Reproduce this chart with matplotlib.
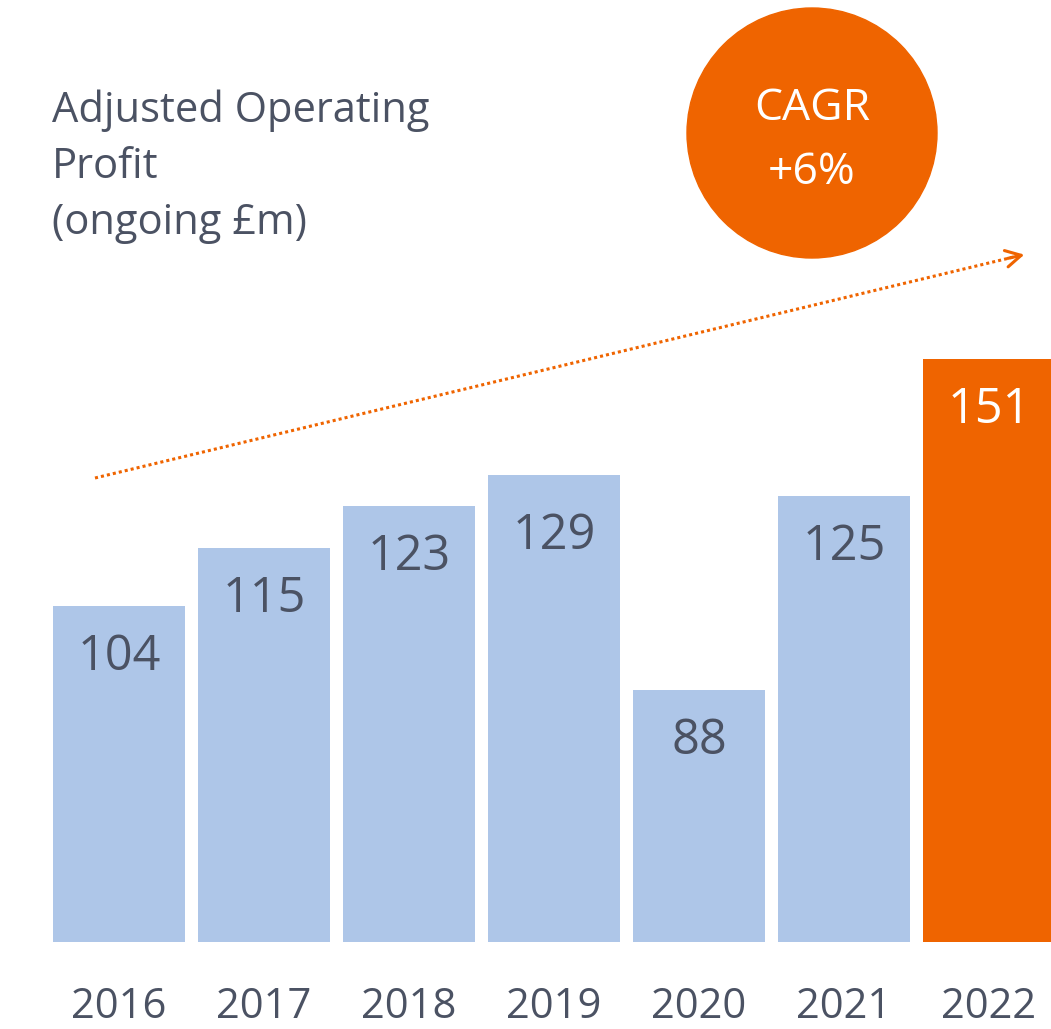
import matplotlib.pyplot as plt
from matplotlib.patches import Ellipse
from matplotlib.lines import Line2D
import matplotlib.transforms as mtransforms

# Datos del gráfico
years = ['2016', '2017', '2018', '2019', '2020', '2021', '2022']
profit = [104, 115, 123, 129, 88, 125, 151]
title_lines = ['Adjusted Operating', 'Profit', '(ongoing £m)']
cagr_lines = ['CAGR', '+6%']

# Colores
blue = '#AEC6E8'
orange = '#EF6400'
text_col = '#4B5263'

# Desplazamiento extra (px) de la etiqueta de 2019 en el original
label_nudge = {3: 10}

plt.rcParams['font.family'] = ['Open Sans', 'DejaVu Sans']

W, H = 1051, 1029
fig = plt.figure(figsize=(W / 100, H / 100), dpi=100)


def fx(px):
    return px / W


def fy(py):
    return 1 - py / H


# Eje de barras: base en y=942 px, centro de la primera barra en x=119 px
ax = fig.add_axes([0, fy(942), 1, 942 / H])
ax.set_xlim(-119 / 145, (W - 119) / 145)
ax.set_ylim(40.06, 219.3)
ax.axis('off')

colors = [blue] * (len(years) - 1) + [orange]
bars = ax.bar(range(len(years)), profit, width=0.91, color=colors)

# Etiquetas de valor dentro de las barras
for i, (b, v) in enumerate(zip(bars, profit)):
    c = 'white' if i == len(years) - 1 else text_col
    off = -(64 + label_nudge.get(i, 0)) * 0.72
    ax.annotate(str(v), xy=(b.get_x() + b.get_width() / 2, v),
                xytext=(0, off), textcoords='offset points',
                ha='center', va='baseline', fontsize=35, color=c)

# Años debajo de las barras
trans = mtransforms.blended_transform_factory(ax.transData, fig.transFigure)
for i, y in enumerate(years):
    ax.text(i, fy(1018), y, transform=trans, ha='center', va='baseline',
            fontsize=30, color=text_col, clip_on=False)

# Título
for line, base in zip(title_lines, [122, 178, 234]):
    fig.text(fx(52), fy(base), line, ha='left', va='baseline',
             fontsize=30, color=text_col)

# Círculo CAGR
circ = Ellipse((fx(812), fy(133)), 250 / W, 250 / H, transform=fig.transFigure,
               color=orange, zorder=3)
fig.patches.append(circ)
for line, base in zip(cagr_lines, [120, 184]):
    fig.text(fx(812), fy(base), line, ha='center', va='baseline',
             fontsize=32, color='white', zorder=4)

# Flecha punteada de tendencia
x0, y0, x1, y1 = fx(95), fy(478), fx(1022), fy(255)
fig.add_artist(Line2D([x0, x1], [y0, y1], transform=fig.transFigure,
                      color=orange, lw=2.2, linestyle=(0, (1, 1))))
ax.annotate('', xy=(fx(1027), fy(254)), xycoords='figure fraction',
            xytext=(fx(1005), fy(259)), textcoords='figure fraction',
            arrowprops=dict(arrowstyle='->,head_length=1.1,head_width=0.6',
                            color=orange, lw=2.2))

fig.savefig('out.png', dpi=100)
